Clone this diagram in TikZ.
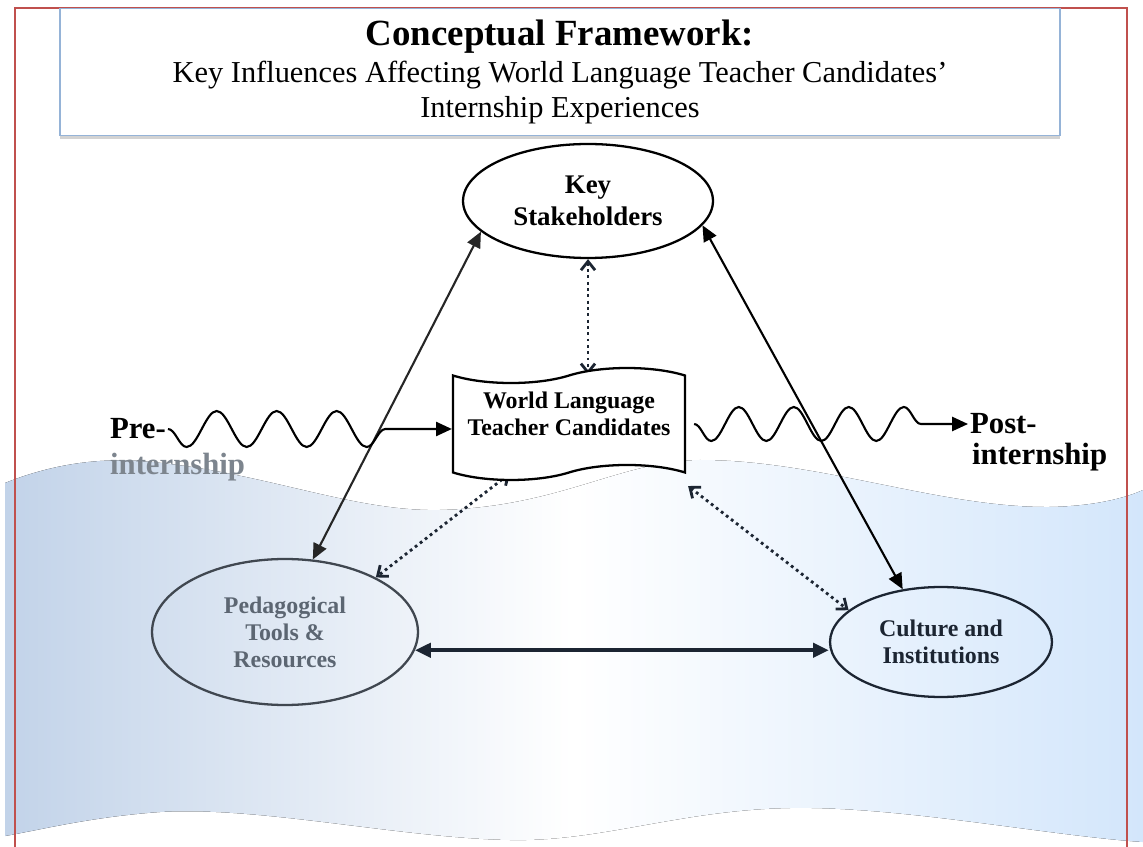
\documentclass[tikz,border=0pt]{standalone}
\usepackage{fontspec}
\setmainfont{Liberation Serif}
\usetikzlibrary{shapes.geometric,shapes.symbols,decorations.pathmorphing,arrows.meta,shadows}
\pgfdeclarelayer{bglayer}
\pgfdeclarelayer{edgelayer}
\pgfdeclarelayer{nodelayer}
\pgfsetlayers{bglayer,edgelayer,nodelayer,main}
\definecolor{bandleft}{HTML}{C2D3E9}
\definecolor{bandright}{HTML}{D3E6FB}
\definecolor{framered}{HTML}{C0504D}
\definecolor{titleblue}{HTML}{95B3D7}
\definecolor{darkink}{HTML}{1C2532}
\definecolor{grayink}{HTML}{5C6672}
\tikzstyle{titlebox}=[rectangle, draw=titleblue, fill=white, line width=0.8pt, minimum width=20cm, minimum height=2.54cm, align=center, font=\fontsize{17.3}{19}\selectfont, drop shadow={shadow xshift=0pt, shadow yshift=-2pt, opacity=0.35}]
\tikzstyle{oval}=[ellipse, draw=black, line width=1.3pt, inner sep=0pt, align=center, font=\fontsize{13.6}{15.4}\selectfont\bfseries]
\tikzstyle{ribbon}=[tape, draw=black, fill=white, line width=1.3pt, inner sep=0pt, minimum width=4.64cm, minimum height=2.24cm, tape bend height=0.3cm, align=center, font=\fontsize{13.6}{15.4}\selectfont\bfseries]
\tikzstyle{stagelabel}=[inner sep=1pt, anchor=west, font=\fontsize{17.5}{19}\selectfont\bfseries]
\tikzstyle{edge}=[draw=black, line width=1.2pt, {Triangle[length=9pt,width=8pt]}-{Triangle[length=9pt,width=8pt]}]
\tikzstyle{dotedge}=[draw=darkink, line width=1.6pt, dotted, {Straight Barb[length=5pt,width=8pt]}-{Straight Barb[length=5pt,width=8pt]}]
\tikzstyle{wavy}=[draw=black, line width=1.2pt, -{Triangle[length=9pt,width=8pt]}, decorate]

\begin{document}
\begin{tikzpicture}[x=0.02cm, y=-0.02cm]
	\useasboundingbox (0,0) rectangle (1143,847);
	\begin{pgfonlayer}{bglayer}

	%band and frame
		\fill [left color=bandleft, right color=bandright, middle color=white]
			(5,483) .. controls (50,465) and (95,458) .. (140,461)
			.. controls (260,470) and (350,512) .. (440,510)
			.. controls (560,507) and (620,461) .. (700,460)
			.. controls (820,460) and (940,508) .. (1050,507)
			.. controls (1100,506) and (1130,496) .. (1143,490)
			-- (1143,842)
			.. controls (1050,836) and (900,806) .. (790,808)
			.. controls (680,810) and (600,842) .. (510,840)
			.. controls (400,838) and (260,806) .. (160,812)
			.. controls (90,817) and (40,830) .. (5,836) -- cycle;
		\draw [framered, line width=1.1pt] (15,8) rectangle (1127,880);

	\end{pgfonlayer}
	\begin{pgfonlayer}{nodelayer}

	%title
		\node [style=titlebox] (0) at (560,72) {{\fontsize{21}{23}\selectfont\bfseries Conceptual Framework:}\\[2pt]Key Influences Affecting World Language Teacher Candidates’\\[1pt]Internship Experiences};

	%four influences
		\node [style=oval, fill=white, minimum width=5cm, minimum height=2.28cm, font=\fontsize{15.3}{18}\selectfont\bfseries] (1) at (588,201) {Key\\Stakeholders};
		\node [style=ribbon] (2) at (569,424) {World Language\\Teacher Candidates\\[-4pt]\mbox{}};
		\node [style=oval, draw=grayink!70!black, text=grayink, minimum width=5.32cm, minimum height=2.92cm] (3) at (285,632) {Pedagogical\\Tools \&\\Resources};
		\node [style=oval, draw=darkink, text=darkink, minimum width=4.44cm, minimum height=2.2cm] (4) at (941,642) {Culture and\\Institutions};

	%stages
		\node [style=stagelabel] (5) at (108,429) {Pre-};
		\node [style=stagelabel, text=grayink!80] (6) at (108,467) {internship};
		\node [style=stagelabel] (7) at (968,424) {Post-};
		\node [style=stagelabel] (9) at (970,457) {internship};
		\coordinate (8) at ([xshift=0.16cm]2.east |- 7.west);

	\end{pgfonlayer}
	\begin{pgfonlayer}{edgelayer}

	%solid links
		\draw [style=edge, draw=black!85] (1.196) to (3.69);
		\draw [style=edge] (1.-12) to (4.126);
		\draw [style=edge, draw=darkink, line width=2.2pt] (3.-8) to (3.-8 -| 4.west);

	%dotted links
		\draw [style=dotedge] (1.south) to (2.north -| 1.south);
		\draw [style=dotedge] ([xshift=-1.18cm]2.south) to (3.31);
		\draw [style=dotedge] ([xshift=0.04cm,yshift=-0.24cm]2.south east) to (4.161);

	%internship waves
		\draw [style=wavy, decoration={snake, mirror, segment length=1.2cm, amplitude=0.36cm, post length=0.75cm}] (5.east) to (5.east -| 2.west);
		\draw [style=wavy, decoration={snake, mirror, segment length=1.1cm, amplitude=0.34cm, post length=0.8cm}] (8) to (7.west);

	\end{pgfonlayer}
\end{tikzpicture}
\end{document}
